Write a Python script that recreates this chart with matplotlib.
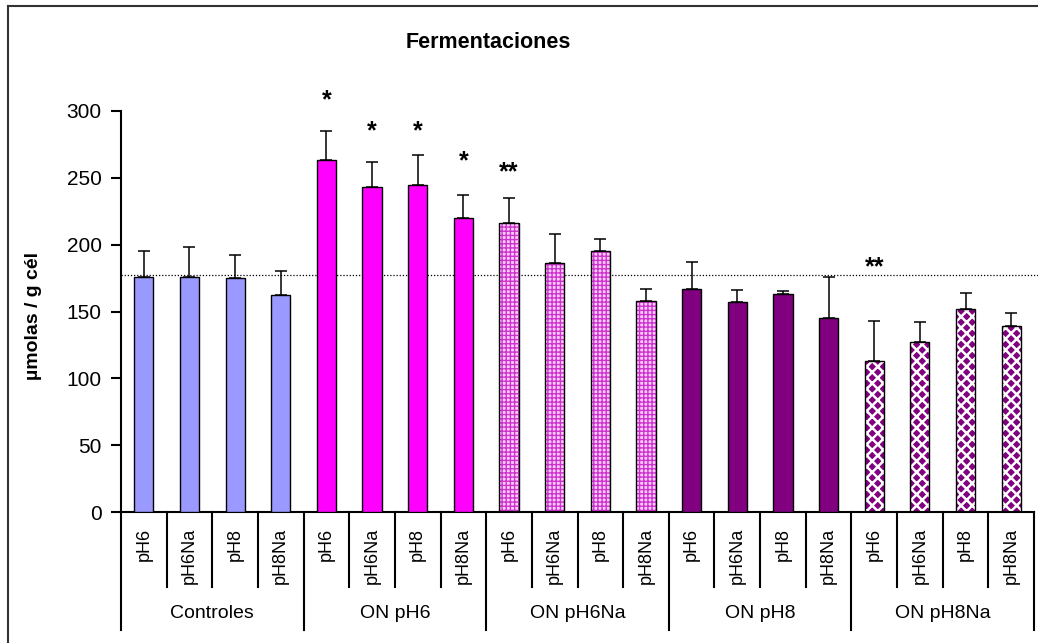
import numpy as np
import matplotlib
matplotlib.use("Agg")
from matplotlib import pyplot as plt
from matplotlib.lines import Line2D

plt.rcParams['font.family'] = ['Liberation Sans', 'DejaVu Sans']

groups = ['Controles', 'ON pH6', 'ON pH6Na', 'ON pH8', 'ON pH8Na']
conds = ['pH6', 'pH6Na', 'pH8', 'pH8Na']
means = [176, 176, 175, 162,
         263, 243, 245, 220,
         216, 186, 195, 158,
         167, 157, 163, 145,
         113, 127, 152, 139]
errs = [19, 22, 17, 18,
        22, 19, 22, 17,
        19, 22, 9, 9,
        20, 9, 2, 31,
        30, 15, 12, 10]
stars = ['', '', '', '',
         '*', '*', '*', '*',
         '**', '', '', '',
         '', '', '', '',
         '**', '', '', '']
star_y = [0, 0, 0, 0,
          308, 285, 285, 262,
          254, 0, 0, 0,
          0, 0, 0, 0,
          183, 0, 0, 0]
ref_line = 177

# fill, hatch colour, hatch for each group
styles = [('#9999FF', None, ''),
          ('#FF00FF', None, ''),
          ('#FFCCFF', '#CC33CC', '++++'),
          ('#800080', None, ''),
          ('#800080', '#FFFFFF', 'xxx')]

fig = plt.figure(figsize=(10.38, 6.43), dpi=100)
ax = fig.add_axes([121/1038, 131/643, 913/1038, 401/643])

x = np.arange(len(means))
w = 0.42
for g in range(len(groups)):
    idx = x[g*4:(g+1)*4]
    vals = means[g*4:(g+1)*4]
    fc, hc, h = styles[g]
    if h:
        bars = ax.bar(idx, vals, w, color=fc, edgecolor=hc, hatch=h, linewidth=0, zorder=2)
        for b in bars:
            try:
                b.set_hatch_linewidth(1.8 if 'x' in h else 1.0)
            except AttributeError:
                pass
        ax.bar(idx, vals, w, fill=False, edgecolor='black', linewidth=1.0, zorder=3)
    else:
        ax.bar(idx, vals, w, color=fc, edgecolor='black', linewidth=1.0, zorder=3)

ax.errorbar(x, means, yerr=[np.zeros(len(errs)), errs], fmt='none', ecolor='black',
            elinewidth=1.1, capsize=4.3, capthick=1.1, zorder=4)

for i in range(len(means)):
    if stars[i]:
        ax.text(x[i], star_y[i], stars[i], ha='center', va='center',
                fontsize=18, fontweight='bold')

ax.axhline(ref_line, xmin=0, xmax=1.01, color='black', linestyle=(0, (1, 1.5)),
           linewidth=0.9, clip_on=False, zorder=1)

ax.set_xlim(-0.5, len(means) - 0.5)
ax.set_ylim(0, 300)
ax.set_yticks(np.arange(0, 301, 50))
ax.tick_params(axis='y', labelsize=15, length=7, width=1.5, pad=7, direction='out')
ax.set_xticks([])
for s in ['top', 'right']:
    ax.spines[s].set_visible(False)
ax.spines['left'].set_linewidth(1.5)
ax.spines['bottom'].set_linewidth(1.5)

# category axis below the plot
trans = ax.get_xaxis_transform()
for i in range(len(means)):
    ax.text(x[i], -0.04, conds[i % 4], rotation=90, ha='center', va='top',
            fontsize=13, transform=trans)
    if i % 4 != 3:
        ax.plot([i + 0.5, i + 0.5], [0, -0.187], color='black', lw=1.5,
                transform=trans, clip_on=False)
for g in range(len(groups) + 1):
    xs = g*4 - 0.5
    ax.plot([xs, xs], [0, -0.295], color='black', lw=1.5, transform=trans, clip_on=False)
for g in range(len(groups)):
    ax.text(g*4 + 1.5, -0.252, groups[g], ha='center', va='center', fontsize=14,
            transform=trans)

fig.text(488/1038, 1 - 42/643, 'Fermentaciones', ha='center', va='center',
         fontsize=15.5, fontweight='bold')
fig.text(33/1038, 1 - 316/643, 'µmolas / g cél', ha='center', va='center',
         rotation=90, fontsize=14, fontweight='bold')

# outer frame (top and left visible)
fig.add_artist(Line2D([8/1038, 8/1038], [0, 1 - 6/643], color='#333333', lw=1.5))
fig.add_artist(Line2D([8/1038, 1], [1 - 6/643, 1 - 6/643], color='#333333', lw=1.5))

fig.savefig('out.png', dpi=100)
